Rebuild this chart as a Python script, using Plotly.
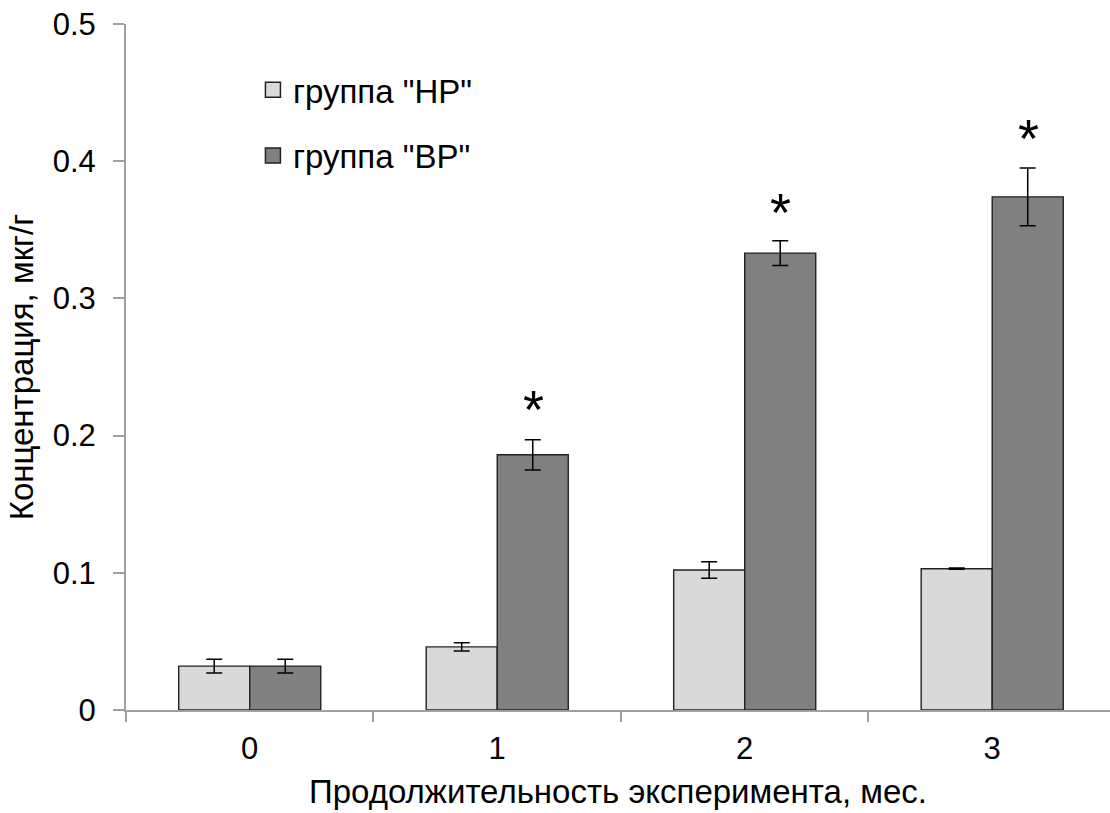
import plotly.graph_objects as go

categories = ["0", "1", "2", "3"]
series_names = ['группа "НР"', 'группа "ВР"']
series_colors = ["#d9d9d9", "#808080"]
nr_values = [0.032, 0.046, 0.102, 0.103]
nr_errors = [0.005, 0.003, 0.006, 0.0005]
vr_values = [0.032, 0.186, 0.333, 0.374]
vr_errors = [0.005, 0.011, 0.009, 0.021]
star_categories = ["1", "2", "3"]
star_y = [0.224, 0.367, 0.421]
y_ticks = [0, 0.1, 0.2, 0.3, 0.4, 0.5]
y_tick_text = ["0", "0.1", "0.2", "0.3", "0.4", "0.5"]

FONT = "Liberation Sans, Arial, sans-serif"
AXIS_GREY = "#a0a0a0"
EDGE = "#222222"

fig = go.Figure()
for vals, errs, name, col in [(nr_values, nr_errors, series_names[0], series_colors[0]),
                              (vr_values, vr_errors, series_names[1], series_colors[1])]:
    fig.add_trace(go.Bar(
        x=categories, y=vals, name=name, showlegend=False,
        marker=dict(color=col, line=dict(color=EDGE, width=1.4)),
        error_y=dict(type="data", array=errs, color="#000000", thickness=1.5, width=8),
    ))

# legend entries (square swatches)
for i, (name, col) in enumerate(zip(series_names, series_colors)):
    fig.add_trace(go.Scatter(
        x=[None], y=[None], mode="markers", name=name, legendgroup=str(i),
        marker=dict(symbol="square", size=15, color=col, line=dict(color=EDGE, width=1.5)),
    ))

for c, yv in zip(star_categories, star_y):
    fig.add_annotation(x=c, y=yv, xref="x", yref="y", text="*", showarrow=False,
                       xshift=36, yshift=-6, font=dict(family=FONT, size=54, color="#000000"),
                       yanchor="middle")

fig.update_layout(
    width=1110, height=813,
    margin=dict(l=126, r=0, t=24, b=103),
    paper_bgcolor="white", plot_bgcolor="white",
    barmode="group", bargap=0.426, bargroupgap=0,
    font=dict(family=FONT, size=31, color="#000000"),
    legend=dict(x=0.129, y=0.945, xanchor="left", yanchor="top",
                font=dict(family=FONT, size=33, color="#000000"),
                traceorder="grouped", tracegroupgap=20,
                bgcolor="rgba(0,0,0,0)"),
    showlegend=True,
)
fig.update_xaxes(
    type="category", range=[-0.5, 3.476],
    showline=True, linecolor=AXIS_GREY, linewidth=2,
    ticks="outside", tickson="boundaries", ticklen=10, tickcolor=AXIS_GREY, tickwidth=2,
    showgrid=False, zeroline=False,
    tickfont=dict(family=FONT, size=31), ticklabelstandoff=10,
    title=dict(text="Продолжительность эксперимента, мес.", font=dict(family=FONT, size=33), standoff=15),
)
fig.update_yaxes(
    range=[0, 0.5], tickvals=y_ticks, ticktext=y_tick_text,
    showline=True, linecolor=AXIS_GREY, linewidth=2,
    ticks="outside", ticklen=11, tickcolor=AXIS_GREY, tickwidth=2,
    showgrid=False, zeroline=False,
    tickfont=dict(family=FONT, size=31), ticklabelstandoff=11,
    title=dict(text="Концентрация, мкг/г", font=dict(family=FONT, size=33), standoff=9),
)

fig.write_html("out.html")
